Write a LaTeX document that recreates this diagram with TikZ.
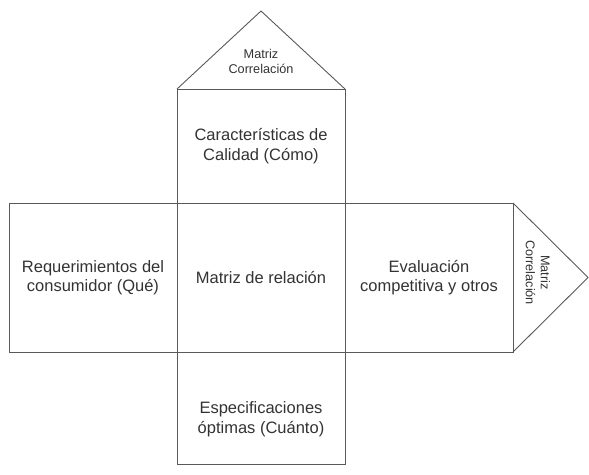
\documentclass[tikz,border=0pt]{standalone}
\usepackage{fontspec}
\setmainfont{Liberation Sans}
\usetikzlibrary{positioning}
\tikzset{
  cell/.style={rectangle, draw=black!65, line width=0.9pt, align=center, text=black!80,
    font=\fontsize{16.5}{19.5}\selectfont, minimum width=168pt, inner sep=0pt, outer sep=0pt},
  roof/.style={draw=black!65, line width=0.9pt, line join=miter},
  txt/.style={align=center, text=black!80, font=\fontsize{16.5}{19.5}\selectfont, inner sep=0pt},
  small/.style={align=center, text=black!80, font=\fontsize{12.7}{15}\selectfont, inner sep=0pt},
}

\begin{document}
\begin{tikzpicture}
\useasboundingbox (0,0) rectangle (589pt,-474pt);
% central column
\node[cell, minimum height=149pt] (rel) at (261pt,-277.5pt) {Matriz de relación};
\node[cell, minimum height=114pt, above=0pt of rel] (como) {Características de\\Calidad (Cómo)};
\node[cell, minimum height=112pt, below=0pt of rel] (cuanto) {};
\node[txt] (cuantotxt) at ([yshift=-11pt]cuanto.center) {Especificaciones\\óptimas (Cuánto)};
% side boxes
\node[cell, minimum height=149pt, left=0pt of rel] (que) {Requerimientos del\\consumidor (Qué)};
\node[cell, minimum height=149pt, right=0pt of rel] (eval) {Evaluación\\competitiva y otros};
% roofs
\coordinate[above=78pt of como.north] (apexT);
\coordinate[right=75pt of eval.east] (apexR);
\draw[roof] (como.north west) -- (apexT) -- (como.north east);
\draw[roof] (eval.north east) -- (apexR) -- (eval.south east);
\node[small] (corrT) at ([yshift=28pt]como.north) {Matriz\\Correlación};
\node[small, rotate=-90] (corrR) at ([xshift=25pt,yshift=5pt]eval.east) {Matriz\\Correlación};
\end{tikzpicture}
\end{document}
